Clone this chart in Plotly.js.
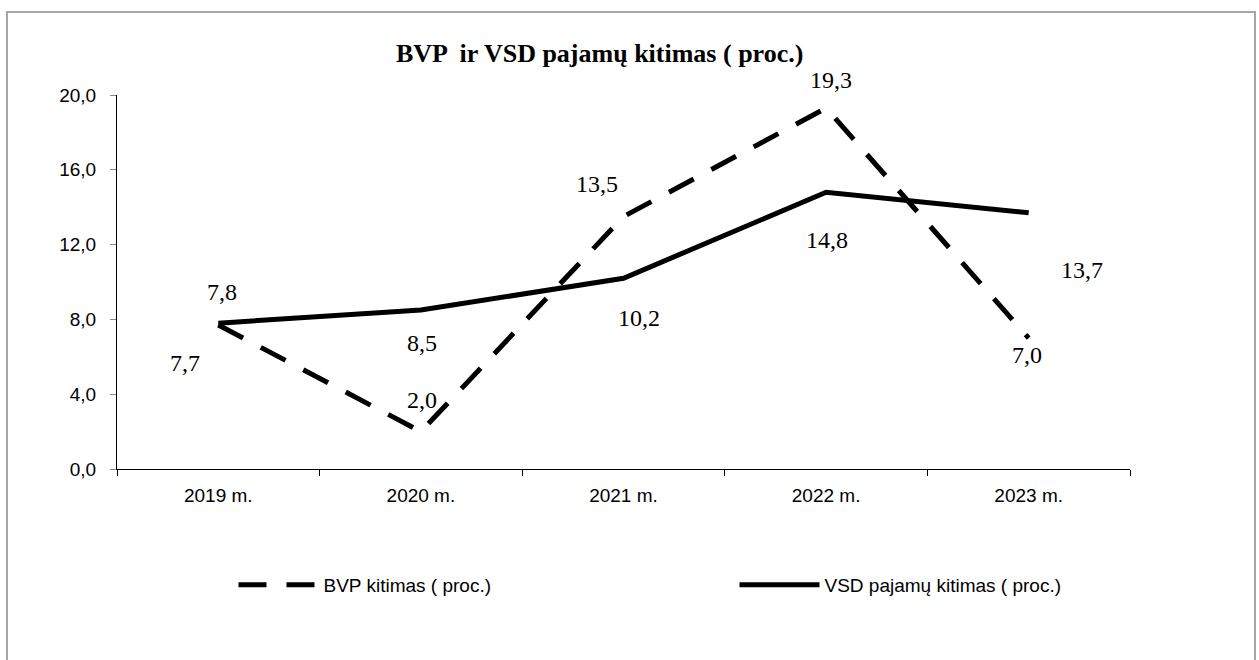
<!DOCTYPE html>
<html>
<head>
<meta charset="utf-8">
<script src="https://cdn.plot.ly/plotly-3.0.1.min.js"></script>
<style>
  html, body { margin: 0; padding: 0; background: #fff; }
  #chart { width: 1259px; height: 660px; }
</style>
</head>
<body>
<div id="chart"></div>
<script>
// ---- data ----
var years = ["2019 m.", "2020 m.", "2021 m.", "2022 m.", "2023 m."];
var bvpName = "BVP kitimas ( proc.)";
var vsdName = "VSD pajamų kitimas ( proc.)";
var bvpValues = [7.7, 2.0, 13.5, 19.3, 7.0];
var vsdValues = [7.8, 8.5, 10.2, 14.8, 13.7];
var titleText = "BVP  ir VSD pajamų kitimas ( proc.)";
var yTicks = [0, 4, 8, 12, 16, 20];

// ---- label offsets (style only) ----
var bvpShiftX = [-33, 1, -27, 5, -2];
var bvpShiftY = [-38, 32, 33, 28, -17];
var vsdShiftX = [4, 1, 15, 1, 53];
var vsdShiftY = [31, -33, -40, -48, -57];

function fmt(v) { return v.toFixed(1).replace(".", ","); }

var serif = "'Liberation Serif', 'Times New Roman', serif";
var sans = "'Liberation Sans', Arial, sans-serif";

var annotations = [];
function addLabels(vals, sx, sy) {
  for (var i = 0; i < vals.length; i++) {
    annotations.push({
      x: years[i], y: vals[i], xref: "x", yref: "y",
      text: fmt(vals[i]), showarrow: false,
      xanchor: "center", yanchor: "middle",
      xshift: sx[i], yshift: sy[i],
      font: {family: serif, size: 24, color: "#000"}
    });
  }
}
addLabels(bvpValues, bvpShiftX, bvpShiftY);
addLabels(vsdValues, vsdShiftX, vsdShiftY);

annotations.push({
  text: "<b>" + titleText + "</b>", xref: "paper", yref: "paper",
  x: 0.476, y: 1.112, xanchor: "center", yanchor: "middle", showarrow: false,
  font: {family: serif, size: 26, color: "#000"}
});

var traces = [
  {x: years, y: bvpValues, name: bvpName, type: "scatter", mode: "lines",
   line: {color: "#000", width: 5, dash: "28px,20px"}},
  {x: years, y: vsdValues, name: vsdName, type: "scatter", mode: "lines",
   line: {color: "#000", width: 5}}
];

var layout = {
  width: 1259, height: 660,
  margin: {l: 117, r: 129, t: 95, b: 191, pad: 0},
  paper_bgcolor: "#fff", plot_bgcolor: "#fff",
  showlegend: true,
  font: {family: sans, color: "#000"},
  xaxis: {
    type: "category", range: [-0.5, 4.5], fixedrange: true,
    showgrid: false, zeroline: false,
    showline: true, linecolor: "#000", linewidth: 1,
    ticks: "outside", tickson: "boundaries", ticklen: 6, tickcolor: "#000", tickwidth: 1,
    tickfont: {family: sans, size: 19, color: "#000"},
    ticklabelstandoff: 9
  },
  yaxis: {
    range: [0, 20], tickvals: yTicks, tickformat: ".1f", fixedrange: true,
    showgrid: false, zeroline: false,
    showline: true, linecolor: "#000", linewidth: 1,
    ticks: "outside", ticklen: 6, tickcolor: "#888", tickwidth: 1,
    tickfont: {family: sans, size: 19, color: "#000"},
    ticklabelstandoff: 10
  },
  separators: ",.",
  legend: {
    orientation: "h", x: 0.115, y: -0.31, xanchor: "left", yanchor: "middle",
    itemwidth: 80, entrywidth: 406, entrywidthmode: "pixels",
    font: {family: sans, size: 19, color: "#000"},
    bgcolor: "rgba(0,0,0,0)"
  },
  annotations: annotations,
  shapes: [{
    type: "rect", xref: "paper", yref: "paper",
    x0: (7 - 117) / 1013, x1: (1255 - 117) / 1013,
    y0: (469 - 700) / 374, y1: (469 - 12) / 374,
    line: {color: "#a6a6a6", width: 2}, fillcolor: "rgba(0,0,0,0)", layer: "below"
  }]
};

Plotly.newPlot("chart", traces, layout, {displayModeBar: false, staticPlot: true});
</script>
</body>
</html>
